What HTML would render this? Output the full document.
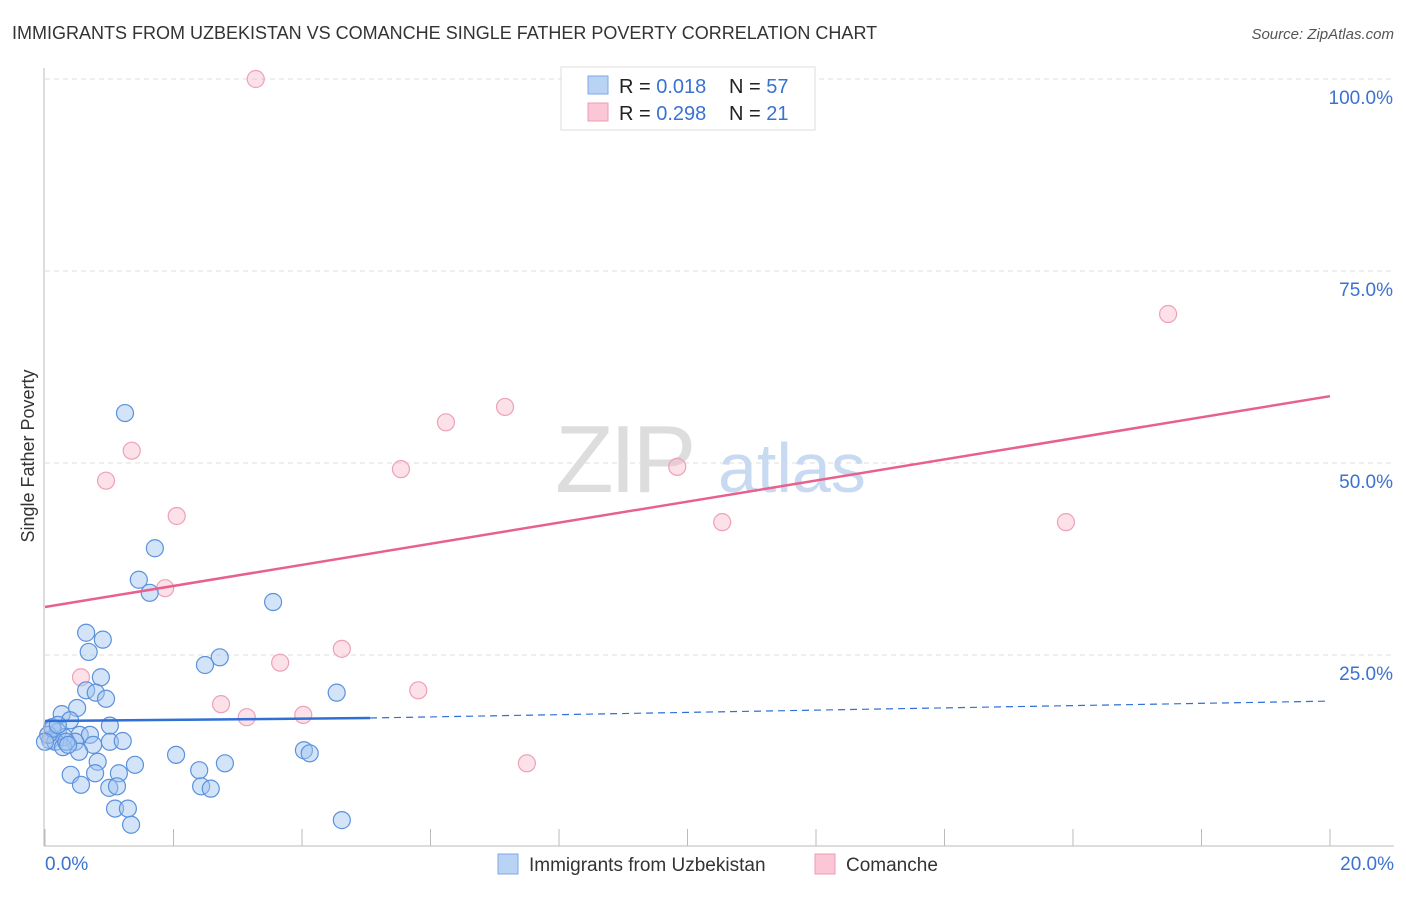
<!DOCTYPE html>
<html><head><meta charset="utf-8"><style>
body{margin:0;background:#fff;font-family:"Liberation Sans",sans-serif;}
svg text{font-family:"Liberation Sans",sans-serif;}
</style></head><body>
<svg id="chart" width="1406" height="892" xmlns="http://www.w3.org/2000/svg">
<text x="12" y="39" font-size="18" fill="#333">IMMIGRANTS FROM UZBEKISTAN VS COMANCHE SINGLE FATHER POVERTY CORRELATION CHART</text>
<text x="1394" y="39" font-size="15" fill="#555" font-style="italic" text-anchor="end">Source: ZipAtlas.com</text>
<text x="34" y="456" font-size="18" fill="#333" text-anchor="middle" transform="rotate(-90 34 456)">Single Father Poverty</text>
<g id="grid"></g>
<g id="watermark">
<text x="555" y="492" font-size="96" font-family="Liberation Serif" fill="#ddd" letter-spacing="-4">ZIP</text>
<text x="718" y="492" font-size="70" fill="#c8daf2">atlas</text>
</g>
<g id="points"></g>
<g id="trends"></g>
<g id="axes"></g>
<g>
<rect x="561" y="67" width="254" height="63" fill="#fff" stroke="#ddd"/>
<rect x="588" y="76" width="20" height="18" fill="#b9d3f5" stroke="#7fa8e6"/>
<rect x="588" y="103" width="20" height="18" fill="#fbc7d6" stroke="#ee9bb3"/>
<text x="619" y="93" font-size="20" fill="#222">R = <tspan fill="#3a72d0">0.018</tspan></text>
<text x="729" y="93" font-size="20" fill="#222">N = <tspan fill="#3a72d0">57</tspan></text>
<text x="619" y="120" font-size="20" fill="#222">R = <tspan fill="#3a72d0">0.298</tspan></text>
<text x="729" y="120" font-size="20" fill="#222">N = <tspan fill="#3a72d0"> 21</tspan></text>
</g>
<g>
<rect x="498" y="854" width="20" height="20" fill="#b9d3f5" stroke="#7fa8e6"/>
<text x="529" y="871" font-size="19" fill="#333">Immigrants from Uzbekistan</text>
<rect x="815" y="854" width="20" height="20" fill="#fbc7d6" stroke="#ee9bb3"/>
<text x="846" y="871" font-size="19" fill="#333">Comanche</text>
</g>
</svg>
<script>
const blueX=[1.245,1.71,1.46,1.63,3.55,0.64,0.90,0.68,2.72,2.49,0.87,4.54,0.64,0.79,0.95,0.50,0.26,0.39,1.01,0.11,0.20,0.30,0.54,0.70,0.08,0.16,0.47,0.75,1.01,1.21,0.53,0.28,2.04,4.03,4.12,0.82,1.40,2.80,2.40,0.40,0.78,1.15,0.56,1.00,1.12,2.43,2.58,1.09,1.29,1.34,4.62,0.05,0.12,0.0,0.33,0.20,0.36];
const blueY=[56.5,38.9,34.8,33.1,31.9,27.9,27.0,25.4,24.7,23.7,22.1,20.1,20.4,20.1,19.3,18.1,17.3,16.5,15.8,15.6,15.0,14.3,14.6,14.6,13.9,13.7,13.7,13.3,13.7,13.8,12.4,13.0,12.0,12.6,12.2,11.1,10.7,10.9,10.0,9.4,9.6,9.6,8.1,7.7,7.9,7.9,7.6,5.0,5.0,2.9,3.5,14.6,15.4,13.7,13.7,15.9,13.3];
const pinkX=[3.28,17.48,7.16,6.24,1.35,5.54,9.84,0.95,2.05,10.54,15.89,1.87,4.62,3.66,0.56,5.81,2.74,3.14,4.02,7.50,0.05];
const pinkY=[100,69.4,57.3,55.3,51.6,49.2,49.5,47.7,43.1,42.3,42.3,33.7,25.8,24.0,22.1,20.4,18.6,16.9,17.2,10.9,14.6];
const blueTrend=[16.4,16.8,19.0]; // y at x=0, x=max blue, x=20
const pinkTrend=[31.25,58.7];     // y at x=0, x=20
const xTicks=[0,2,4,6,8,10,12,14,16,18,20];
const yTicks=[25,50,75,100];
const yTickLabels=["25.0%","50.0%","75.0%","100.0%"];

const NS="http://www.w3.org/2000/svg";
const X=v=>45+v/20*1285;
const Y=v=>847-v/100*768;
function mk(tag,attrs,parent){const e=document.createElementNS(NS,tag);for(const k in attrs)e.setAttribute(k,attrs[k]);parent.appendChild(e);return e;}
const grid=document.getElementById('grid'),axes=document.getElementById('axes'),pts=document.getElementById('points'),tr=document.getElementById('trends');
yTicks.forEach((t,i)=>{
  const l=mk('line',{x1:45,x2:1394,y1:Y(t),y2:Y(t),stroke:'#ddd','stroke-dasharray':'5,4'},grid);
  
  
  const tx=mk('text',{x:1393,y:Y(t)+25,'font-size':19,fill:'#3a72d0','text-anchor':'end'},axes);
  tx.textContent=yTickLabels[i];
  
  
});
const ax=mk('line',{x1:44,x2:44,y1:68,y2:846,stroke:'#bbb'},axes);


const bx=mk('line',{x1:44,x2:1394,y1:846,y2:846,stroke:'#bbb'},axes);


xTicks.forEach(t=>{
  const l=mk('line',{x1:X(t),x2:X(t),y1:829,y2:846,stroke:'#bbb'},axes);
  
  
});
const xl0=mk('text',{x:45,y:870,'font-size':19,fill:'#3a72d0'},axes);xl0.textContent=xTicks[0].toFixed(1)+"%";


const xl1=mk('text',{x:1394,y:870,'font-size':19,fill:'#3a72d0','text-anchor':'end'},axes);xl1.textContent=xTicks[xTicks.length-1].toFixed(1)+"%";



pinkX.forEach((x,i)=>{
  const c=mk('circle',{cx:X(x),cy:Y(pinkY[i]),r:8.5,fill:'rgba(248,180,200,0.4)',stroke:'#eea0b8','stroke-width':1.2},pts);
  
  
});
blueX.forEach((x,i)=>{
  const c=mk('circle',{cx:X(x),cy:Y(blueY[i]),r:8.5,fill:'rgba(160,196,240,0.45)',stroke:'#5b91dc','stroke-width':1.2},pts);
  
  
});
const bmax=Math.max(...blueX)+0.44;
const b1=mk('line',{x1:X(0),y1:Y(blueTrend[0]),x2:X(bmax),y2:Y(blueTrend[1]),stroke:'#2f6fd6','stroke-width':2.5},tr);


const b2=mk('line',{x1:X(bmax),y1:Y(blueTrend[1]),x2:X(20),y2:Y(blueTrend[2]),stroke:'#2f6fd6','stroke-width':1.2,'stroke-dasharray':'7,5'},tr);


const p1=mk('line',{x1:X(0),y1:Y(pinkTrend[0]),x2:X(20),y2:Y(pinkTrend[1]),stroke:'#e8618d','stroke-width':2.5},tr);


</script>
</body></html>
